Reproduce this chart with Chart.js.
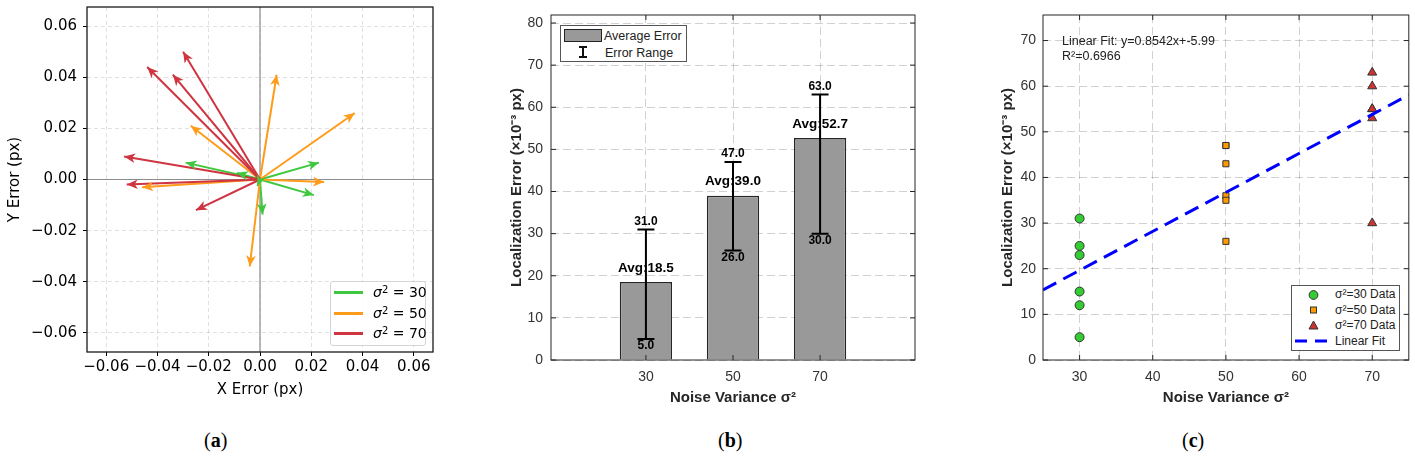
<!DOCTYPE html>
<html>
<head>
<meta charset="utf-8">
<script src="https://cdn.jsdelivr.net/npm/chart.js@4.4.1/dist/chart.umd.min.js"></script>
<style>
body { margin: 0; background: #fff; width: 1415px; height: 462px; position: relative; overflow: hidden; }
canvas { position: absolute; top: 0; }
.ov { position: absolute; z-index: 2; white-space: nowrap; }
.legA { font-family: "DejaVu Sans"; font-size: 14px; line-height: 18px; color: #000; }
.legA sup { font-size: 10px; line-height: 0; vertical-align: 0.45em; }
.sans { font-family: "Liberation Sans", Arial; color: #222; }
.cap { font-family: "Liberation Serif", "Times New Roman"; font-size: 20px; line-height: 24px; color: #000; }
</style>
</head>
<body>
<canvas id="chartA" width="445" height="405" style="left:0px"></canvas>
<canvas id="chartB" width="460" height="410" style="left:480px"></canvas>
<canvas id="chartC" width="425" height="410" style="left:990px"></canvas>

<!-- legend (a) -->
<div class="ov" style="left:330px;top:281px;width:94px;height:63px;border:1px solid #d4d4d4;border-radius:3px;background:rgba(255,255,255,0.85);"></div>
<div class="ov" style="left:334px;top:290.5px;width:29px;height:3px;background:#3fc83f;"></div>
<div class="ov" style="left:334px;top:311.5px;width:29px;height:3px;background:#ff9b1a;"></div>
<div class="ov" style="left:334px;top:331.5px;width:29px;height:3px;background:#cf3441;"></div>
<div class="ov legA" style="left:373px;top:283px;"><i>σ</i><sup>2</sup> = 30</div>
<div class="ov legA" style="left:373px;top:304px;"><i>σ</i><sup>2</sup> = 50</div>
<div class="ov legA" style="left:373px;top:324px;"><i>σ</i><sup>2</sup> = 70</div>

<!-- legend (b) -->
<div class="ov" style="left:560px;top:25px;width:125px;height:35px;border:1px solid #555;background:#fff;"></div>
<div class="ov" style="left:564px;top:29px;width:38px;height:13px;box-sizing:border-box;border:1.5px solid #222;background:#999;"></div>
<div class="ov sans" style="left:604px;top:28.5px;font-size:12.5px;line-height:14px;">Average Error</div>
<div class="ov" style="left:582px;top:47px;width:2px;height:10px;background:#111;"></div>
<div class="ov" style="left:579px;top:46px;width:8px;height:2px;background:#111;"></div>
<div class="ov" style="left:579px;top:56px;width:8px;height:2px;background:#111;"></div>
<div class="ov sans" style="left:605px;top:45.5px;font-size:12.5px;line-height:14px;">Error Range</div>

<!-- annotation + legend (c) -->
<div class="ov sans" style="left:1062px;top:33.5px;font-size:12.5px;line-height:15px;">Linear Fit: y=0.8542x+-5.99</div>
<div class="ov sans" style="left:1062px;top:49px;font-size:12.5px;line-height:15px;">R²=0.6966</div>
<div class="ov" style="left:1291px;top:285px;width:107px;height:64px;border:1px solid #555;background:#fff;"></div>
<svg class="ov" style="left:1291px;top:285px;" width="109" height="66">
  <circle cx="22.5" cy="10" r="4.4" fill="#3c3" stroke="#333" stroke-width="1"/>
  <rect x="19.5" y="22" width="6" height="6" fill="#ff9a00" stroke="#333" stroke-width="1"/>
  <polygon points="22.5,36 27,44 18,44" fill="#cc3333" stroke="#333" stroke-width="1"/>
  <line x1="4" y1="56" x2="39" y2="56" stroke="#0000ff" stroke-width="3" stroke-dasharray="12 8"/>
</svg>
<div class="ov sans" style="left:1335px;top:287px;font-size:12px;line-height:15px;">σ²=30 Data</div>
<div class="ov sans" style="left:1335px;top:302.5px;font-size:12px;line-height:15px;">σ²=50 Data</div>
<div class="ov sans" style="left:1335px;top:318px;font-size:12px;line-height:15px;">σ²=70 Data</div>
<div class="ov sans" style="left:1335px;top:333.5px;font-size:12px;line-height:15px;">Linear Fit</div>

<!-- captions -->
<div class="ov cap" style="left:204px;top:428px;">(<b>a</b>)</div>
<div class="ov cap" style="left:718px;top:428px;">(<b>b</b>)</div>
<div class="ov cap" style="left:1182px;top:428px;">(<b>c</b>)</div>

<script>
// (a) error vectors per noise level (px)
const arrowX30 = [0.023, -0.029, -0.009, 0.021, 0.001, -0.001];
const arrowY30 = [0.0066, 0.0066, 0.0026, -0.0061, -0.0137, -0.0026];
const arrowX50 = [0.0065, 0.037, -0.027, 0.025, -0.046, -0.004];
const arrowY50 = [0.041, 0.026, 0.021, -0.001, -0.003, -0.034];
const arrowX70 = [-0.030, -0.044, -0.034, -0.053, -0.052, -0.025];
const arrowY70 = [0.050, 0.044, 0.041, 0.009, -0.002, -0.012];
const errorTicks = [-0.06, -0.04, -0.02, 0, 0.02, 0.04, 0.06];

// (b) summary per noise level (x10^-3 px)
const noiseLevels = [30, 50, 70];
const avgError = [18.5, 39.0, 52.7];
const minError = [5, 26, 30];
const maxError = [31, 47, 63];
const yTicksB = [0, 10, 20, 30, 40, 50, 60, 70, 80];

// (c) raw samples
const group30 = [31, 25, 23, 15, 12, 5];
const group50 = [47, 47, 43, 36, 35, 26];
const group70 = [63, 60, 55, 55, 53, 30];
const fitX = [25, 75];
const fitY = [15.37, 58.08];
const xTicksC = [30, 40, 50, 60, 70];
const yTicksC = [0, 10, 20, 30, 40, 50, 60, 70];

const GREEN = '#3fc83f', ORANGE = '#ff9b1a', RED = '#cf3441';

function setTicks(values) { return function(scale) { scale.ticks = values.map(v => ({value: v})); }; }
function fixWidth(w) { return function(scale) { scale.width = w; }; }
function fixHeight(h) { return function(scale) { scale.height = h; }; }

function framePlugin(color, width, tickLen) {
  return {
    id: 'frame',
    afterDatasetsDraw(chart) {
      const {ctx, chartArea: a, scales: {x, y}} = chart;
      ctx.save();
      ctx.strokeStyle = color;
      ctx.lineWidth = width;
      ctx.strokeRect(a.left, a.top, a.right - a.left, a.bottom - a.top);
      if (tickLen) {
        ctx.beginPath();
        y.ticks.forEach(t => {
          const p = y.getPixelForValue(t.value);
          ctx.moveTo(a.left, p); ctx.lineTo(a.left + tickLen, p);
          ctx.moveTo(a.right, p); ctx.lineTo(a.right - tickLen, p);
        });
        x.ticks.forEach(t => {
          const p = x.getPixelForValue(t.value);
          ctx.moveTo(p, a.bottom); ctx.lineTo(p, a.bottom - tickLen);
          ctx.moveTo(p, a.top); ctx.lineTo(p, a.top + tickLen);
        });
        ctx.stroke();
      }
      ctx.restore();
    }
  };
}

// ---------- (a) ----------
const zeroLines = {
  id: 'zeroLines',
  beforeDatasetsDraw(chart) {
    const {ctx, chartArea: a, scales: {x, y}} = chart;
    const px = x.getPixelForValue(0), py = y.getPixelForValue(0);
    ctx.save();
    ctx.strokeStyle = '#8c8c8c';
    ctx.lineWidth = 1.2;
    ctx.beginPath();
    ctx.moveTo(px, a.top); ctx.lineTo(px, a.bottom);
    ctx.moveTo(a.left, py); ctx.lineTo(a.right, py);
    ctx.stroke();
    ctx.restore();
  }
};

const arrowHeads = {
  id: 'arrowHeads',
  afterDatasetsDraw(chart) {
    const ctx = chart.ctx;
    chart.data.datasets.forEach((ds, i) => {
      const pts = chart.getDatasetMeta(i).data;
      const a = pts[0], b = pts[1];
      const ang = Math.atan2(b.y - a.y, b.x - a.x);
      ctx.save();
      ctx.translate(b.x, b.y);
      ctx.rotate(ang);
      ctx.beginPath();
      ctx.moveTo(0, 0);
      ctx.lineTo(-11, -4.8);
      ctx.lineTo(-8, 0);
      ctx.lineTo(-11, 4.8);
      ctx.closePath();
      ctx.fillStyle = ds.borderColor;
      ctx.fill();
      ctx.restore();
    });
  }
};

function arrowSets(xs, ys, color) {
  return xs.map((x, i) => ({
    data: [{x: 0, y: 0}, {x: x, y: ys[i]}],
    borderColor: color,
    backgroundColor: color,
    borderWidth: 2,
    showLine: true,
    pointRadius: 0
  }));
}

const fontA = {family: 'DejaVu Sans', size: 15, lineHeight: 1};
const fontAy = {family: 'DejaVu Sans', size: 15, lineHeight: 0.1};
const gridA = {color: 'rgba(0,0,0,0.12)', drawTicks: true, tickLength: 4, tickColor: '#000', tickWidth: 1};
const fmtA = v => (v < 0 ? '\u2212' : '') + Math.abs(v).toFixed(2);

new Chart(document.getElementById('chartA'), {
  type: 'scatter',
  data: {
    datasets: [].concat(arrowSets(arrowX70, arrowY70, RED), arrowSets(arrowX50, arrowY50, ORANGE), arrowSets(arrowX30, arrowY30, GREEN))
  },
  options: {
    responsive: false,
    animation: false,
    events: [],
    layout: {padding: {top: 7, right: 12, left: 0, bottom: 0}},
    plugins: {legend: {display: false}, tooltip: {enabled: false}},
    scales: {
      x: {
        type: 'linear', min: -0.0675, max: 0.0675,
        afterBuildTicks: setTicks(errorTicks), afterFit: fixHeight(53),
        grid: gridA, border: {display: false, dash: [4, 3]},
        ticks: {color: '#000', font: fontA, padding: 4, maxRotation: 0, callback: fmtA},
        title: {display: true, text: 'X Error (px)', color: '#000', font: {family: 'DejaVu Sans', size: 15}, padding: {top: 4, bottom: 6}}
      },
      y: {
        type: 'linear', min: -0.0675, max: 0.0675,
        afterBuildTicks: setTicks(errorTicks), afterFit: fixWidth(87),
        grid: gridA, border: {display: false, dash: [4, 3]},
        ticks: {color: '#000', font: fontAy, padding: 6, callback: fmtA},
        title: {display: true, text: 'Y Error (px)', color: '#000', font: {family: 'DejaVu Sans', size: 15}, padding: {top: 6, bottom: 0}}
      }
    }
  },
  plugins: [zeroLines, arrowHeads, framePlugin('#1a1a1a', 1.3, 0)]
});

// ---------- (b) ----------
const errorBars = {
  id: 'errorBars',
  afterDatasetsDraw(chart) {
    const {ctx, scales: {y}} = chart;
    const bars = chart.getDatasetMeta(0).data;
    ctx.save();
    ctx.fillStyle = '#000';
    ctx.textAlign = 'center';
    ctx.textBaseline = 'middle';
    bars.forEach((bar, i) => {
      const top = y.getPixelForValue(maxError[i]);
      const bot = y.getPixelForValue(minError[i]);
      ctx.font = 'bold 12px "Liberation Sans"';
      ctx.fillText(maxError[i].toFixed(1), bar.x, top - 8);
      ctx.fillText(minError[i].toFixed(1), bar.x, bot + 7);
      ctx.font = 'bold 13.5px "Liberation Sans"';
      ctx.fillText('Avg:' + avgError[i].toFixed(1), bar.x, bar.y - 14);
    });
    ctx.strokeStyle = '#000';
    ctx.lineWidth = 2;
    bars.forEach((bar, i) => {
      const top = y.getPixelForValue(maxError[i]);
      const bot = y.getPixelForValue(minError[i]);
      ctx.beginPath();
      ctx.moveTo(bar.x, top); ctx.lineTo(bar.x, bot);
      ctx.moveTo(bar.x - 8.5, top); ctx.lineTo(bar.x + 8.5, top);
      ctx.moveTo(bar.x - 8.5, bot); ctx.lineTo(bar.x + 8.5, bot);
      ctx.stroke();
    });
    ctx.restore();
  }
};

const fontTick = {family: 'Liberation Sans', size: 14, lineHeight: 1};
const fontTitle = {family: 'Liberation Sans', size: 15, weight: 'bold'};
const gridM = {color: 'rgba(0,0,0,0.18)', drawTicks: false};

new Chart(document.getElementById('chartB'), {
  type: 'bar',
  data: {
    datasets: [{
      data: noiseLevels.map((v, i) => ({x: v, y: avgError[i]})),
      backgroundColor: '#999999',
      borderColor: '#262626',
      borderWidth: 1.5,
      barPercentage: 0.6,
      categoryPercentage: 1
    }]
  },
  options: {
    responsive: false,
    animation: false,
    events: [],
    layout: {padding: {top: 15, right: 25, left: 0, bottom: 0}},
    plugins: {legend: {display: false}, tooltip: {enabled: false}},
    scales: {
      x: {
        type: 'linear', min: 8.2, max: 91.8, offset: false,
        afterBuildTicks: setTicks(noiseLevels), afterFit: fixHeight(50),
        grid: Object.assign({offset: false}, gridM), border: {display: false, dash: [8, 4]},
        ticks: {color: '#333', font: fontTick, padding: 10, maxRotation: 0},
        title: {display: true, text: 'Noise Variance σ²', color: '#262626', font: fontTitle, padding: {top: 4, bottom: 3}}
      },
      y: {
        type: 'linear', min: 0, max: 81.9,
        afterBuildTicks: setTicks(yTicksB), afterFit: fixWidth(71),
        grid: gridM, border: {display: false, dash: [8, 4]},
        ticks: {color: '#333', font: fontTick, padding: 8},
        title: {display: true, text: 'Localization Error (×10⁻³ px)', color: '#262626', font: fontTitle, padding: {top: 27.7, bottom: 0}}
      }
    }
  },
  plugins: [errorBars, framePlugin('#262626', 1, 5)]
});

// ---------- (c) ----------
new Chart(document.getElementById('chartC'), {
  type: 'scatter',
  data: {
    datasets: [
      {type: 'line', data: fitX.map((x, i) => ({x: x, y: fitY[i]})), borderColor: '#0000ff', borderWidth: 3, borderDash: [15, 8], pointRadius: 0, order: 0},
      {data: group30.map(v => ({x: 30, y: v})), pointStyle: 'circle', pointRadius: 4.5, backgroundColor: '#33cc33', borderColor: '#333', borderWidth: 1, order: 1},
      {data: group50.map(v => ({x: 50, y: v})), pointStyle: 'rect', pointRadius: 4.3, backgroundColor: '#ff9a00', borderColor: '#333', borderWidth: 1, order: 1},
      {data: group70.map(v => ({x: 70, y: v})), pointStyle: 'triangle', pointRadius: 5.2, backgroundColor: '#cc3333', borderColor: '#333', borderWidth: 1, order: 1}
    ]
  },
  options: {
    responsive: false,
    animation: false,
    events: [],
    layout: {padding: {top: 15, right: 6, left: 0, bottom: 0}},
    plugins: {legend: {display: false}, tooltip: {enabled: false}},
    scales: {
      x: {
        type: 'linear', min: 25, max: 75,
        afterBuildTicks: setTicks(xTicksC), afterFit: fixHeight(50),
        grid: gridM, border: {display: false, dash: [8, 4]},
        ticks: {color: '#333', font: fontTick, padding: 10, maxRotation: 0},
        title: {display: true, text: 'Noise Variance σ²', color: '#262626', font: fontTitle, padding: {top: 4, bottom: 3}}
      },
      y: {
        type: 'linear', min: 0, max: 75.6,
        afterBuildTicks: setTicks(yTicksC), afterFit: fixWidth(53),
        grid: gridM, border: {display: false, dash: [8, 4]},
        ticks: {color: '#333', font: fontTick, padding: 7},
        title: {display: true, text: 'Localization Error (×10⁻³ px)', color: '#262626', font: fontTitle, padding: {top: 9, bottom: 0}}
      }
    }
  },
  plugins: [framePlugin('#262626', 1, 5)]
});
</script>
</body>
</html>
